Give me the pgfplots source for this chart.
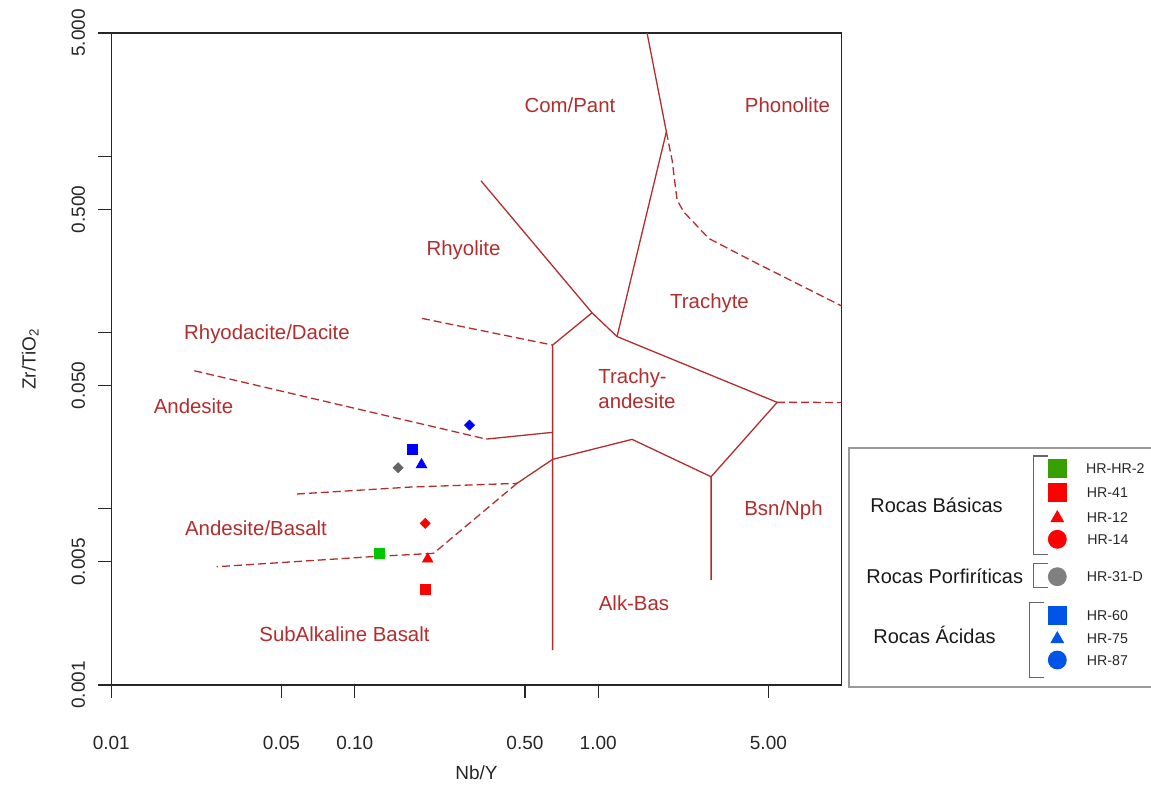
\documentclass[border=0pt]{standalone}
\usepackage{pgfplots}
\pgfplotsset{compat=1.18}
\usepackage{fontspec}
\setmainfont{Liberation Sans}
\definecolor{fld}{RGB}{178,45,45}
\definecolor{lgreen}{RGB}{55,160,0}
\definecolor{pgreen}{RGB}{0,200,0}
\definecolor{lblue}{RGB}{0,85,230}
\definecolor{pgray}{RGB}{100,100,100}
\definecolor{lgray}{RGB}{128,128,128}
\begin{document}
\begin{tikzpicture}
% ---------------- main diagram ----------------
\begin{axis}[
  at={(0pt,0pt)}, anchor=south west,
  scale only axis, width=365.2pt, height=326pt,
  xmode=log, ymode=log,
  xmin=0.01, xmax=10, ymin=0.001, ymax=5,
  axis line style={black!85, line width=0.6pt},
  tick style={black!85, line width=0.6pt},
  tick align=outside, major tick length=6.5pt,
  xtick pos=bottom, ytick pos=left,
  xminorticks=false, yminorticks=false,
  xtick={0.01,0.05,0.1,0.5,1,5},
  xticklabels={0.01,0.05,0.10,0.50,1.00,5.00},
  ytick={0.001,0.005,0.01,0.05,0.1,0.5,1,5},
  yticklabels={0.001,0.005,,0.050,,0.500,,5.000},
  /pgf/number format/assume math mode=true,
  ticklabel style={font=\fontsize{9.5}{11}\selectfont, text=black!85},
  xticklabel style={anchor=center, yshift=-22.5pt},
  yticklabel style={xshift=-10pt, rotate=90, anchor=center},
  xlabel={Nb/Y}, ylabel={Zr/TiO\textsubscript{2}},
  label style={font=\fontsize{9.5}{11}\selectfont, text=black!85},
  xlabel style={at={(axis description cs:0.5,-0.135)}, anchor=center},
  ylabel style={at={(axis description cs:-0.111,0.5)}, anchor=center, rotate=0},
  clip=true,
]
% solid field boundaries
\addplot[fld, line width=0.65pt] coordinates {(0.3300,0.7253) (0.9430,0.1293) (1.195,0.09478)};
\addplot[fld, line width=0.65pt] coordinates {(1.195,0.09478) (1.905,1.375) (1.587,5)};
\addplot[fld, line width=0.65pt] coordinates {(1.195,0.09478) (5.431,0.04014)};
\addplot[fld, line width=0.65pt] coordinates {(5.431,0.04014) (2.908,0.01519) (2.908,0.003941)};
\addplot[fld, line width=0.65pt] coordinates {(2.908,0.01519) (1.377,0.02475) (0.6496,0.01906)};
\addplot[fld, line width=0.65pt] coordinates {(0.9430,0.1293) (0.6496,0.08484) (0.6496,0.001579)};
\addplot[fld, line width=0.65pt] coordinates {(0.6496,0.01906) (0.4637,0.01393)};
\addplot[fld, line width=0.65pt] coordinates {(0.3468,0.02484) (0.6496,0.02713)};
% dashed field boundaries
\addplot[fld, line width=0.65pt, dash pattern=on 4pt off 2pt] coordinates {(5.431,0.04014) (10,0.0401)};
\addplot[fld, line width=0.65pt, dash pattern=on 4pt off 2pt] coordinates {(1.905,1.375) (2.011,0.9504) (2.108,0.5636) (2.244,0.4837) (2.843,0.3418) (4.218,0.2574) (10,0.1413)};
\addplot[fld, line width=0.65pt, dash pattern=on 4pt off 2pt] coordinates {(0.1888,0.1202) (0.6496,0.08484)};
\addplot[fld, line width=0.65pt, dash pattern=on 4pt off 2pt] coordinates {(0.02194,0.06064) (0.3468,0.02484)};
\addplot[fld, line width=0.65pt, dash pattern=on 4pt off 2pt] coordinates {(0.05781,0.01212) (0.1689,0.01327) (0.4637,0.01393)};
\addplot[fld, line width=0.65pt, dash pattern=on 4pt off 2pt] coordinates {(0.4637,0.01393) (0.2107,0.005585)};
\addplot[fld, line width=0.65pt, dash pattern=on 4pt off 2pt] coordinates {(0.2107,0.005585) (0.1157,0.005341) (0.02711,0.004688)};
% samples
\addplot[only marks, mark=square*, mark size=2.5pt, draw=pgreen, fill=pgreen] coordinates {(0.1263,0.005585)};
\addplot[only marks, mark=square*, mark size=2.5pt, draw=red, fill=red] coordinates {(0.1947,0.003490)};
\addplot[only marks, mark=triangle*, mark size=3.0pt, draw=red, fill=red] coordinates {(0.1993,0.00518)};
\addplot[only marks, mark=square*, mark size=1.75pt, mark options={rotate=45}, draw=red, fill=red] coordinates {(0.1947,0.008266)};
\addplot[only marks, mark=square*, mark size=1.75pt, mark options={rotate=45}, draw=pgray, fill=pgray] coordinates {(0.1508,0.01708)};
\addplot[only marks, mark=square*, mark size=2.5pt, draw=blue, fill=blue] coordinates {(0.1733,0.02182)};
\addplot[only marks, mark=triangle*, mark size=3.0pt, draw=blue, fill=blue] coordinates {(0.1880,0.01779)};
\addplot[only marks, mark=square*, mark size=1.75pt, mark options={rotate=45}, draw=blue, fill=blue] coordinates {(0.296,0.02984)};
\end{axis}
% ---------------- overlay in pixel units: field names and legend ----------------
\begin{axis}[
  at={(-55.65pt,-51pt)}, anchor=south west,
  scale only axis, width=575.5pt, height=393.5pt,
  xmin=0, xmax=1151, ymin=0, ymax=787, y dir=reverse,
  hide axis, clip=false,
]
\begin{scope}[every node/.style={font=\fontsize{10.2}{12}\selectfont, text=fld, anchor=base, inner sep=0pt}]
\node at (axis cs:570,112) {Com/Pant};
\node at (axis cs:787.5,112) {Phonolite};
\node at (axis cs:463.5,255) {Rhyolite};
\node at (axis cs:709.5,308) {Trachyte};
\node at (axis cs:267,339) {Rhyodacite/Dacite};
\node[anchor=base west] at (axis cs:598,383) {Trachy-};
\node[anchor=base west] at (axis cs:598,408) {andesite};
\node at (axis cs:193.5,413) {Andesite};
\node at (axis cs:256,535) {Andesite/Basalt};
\node at (axis cs:783.5,515) {Bsn/Nph};
\node at (axis cs:634,610) {Alk-Bas};
\node at (axis cs:344.5,641) {SubAlkaline Basalt};
\end{scope}
% legend frame
\draw[lgray!80, line width=0.6pt] (axis cs:1165,448) -- (axis cs:849,448) -- (axis cs:849,687) -- (axis cs:1165,687);
% brackets
\draw[black!60, line width=0.6pt] (axis cs:1048.3,456) -- (axis cs:1033.3,456) -- (axis cs:1033.3,554.3) -- (axis cs:1048.3,554.3);
\draw[black!60, line width=0.6pt] (axis cs:1048.3,563.3) -- (axis cs:1033.3,563.3) -- (axis cs:1033.3,587.3) -- (axis cs:1048.3,587.3);
\draw[black!60, line width=0.6pt] (axis cs:1044.3,602.7) -- (axis cs:1029.3,602.7) -- (axis cs:1029.3,677.3) -- (axis cs:1044.3,677.3);
% group names
\begin{scope}[every node/.style={font=\fontsize{10}{12}\selectfont, text=black!90, anchor=base west, inner sep=0pt}]
\node at (axis cs:870,512) {Rocas Básicas};
\node at (axis cs:866,583) {Rocas Porfiríticas};
\node at (axis cs:873,643.7) {Rocas Ácidas};
\end{scope}
% legend symbols
\addplot[only marks, mark=square*, mark size=4.5pt, draw=lgreen, fill=lgreen] coordinates {(1057.3,468.3)};
\addplot[only marks, mark=square*, mark size=4.5pt, draw=red, fill=red] coordinates {(1057.3,492.3)};
\addplot[only marks, mark=triangle*, mark size=3.6pt, draw=red, fill=red] coordinates {(1057.3,518)};
\addplot[only marks, mark=*, mark size=4.5pt, draw=red, fill=red] coordinates {(1057.3,539.3)};
\addplot[only marks, mark=*, mark size=4.5pt, draw=lgray, fill=lgray] coordinates {(1057.3,576.7)};
\addplot[only marks, mark=square*, mark size=4.5pt, draw=lblue, fill=lblue] coordinates {(1057.3,615)};
\addplot[only marks, mark=triangle*, mark size=3.6pt, draw=lblue, fill=lblue] coordinates {(1057.3,639)};
\addplot[only marks, mark=*, mark size=4.5pt, draw=lblue, fill=lblue] coordinates {(1057.3,660)};
\begin{scope}[every node/.style={font=\fontsize{7.1}{9}\selectfont, text=black!85, anchor=base west, inner sep=0pt}]
\node at (axis cs:1085.7,473.3) {HR-HR-2};
\node at (axis cs:1086.5,497.3) {HR-41};
\node at (axis cs:1086.5,522.3) {HR-12};
\node at (axis cs:1087,544.3) {HR-14};
\node at (axis cs:1086.5,581.7) {HR-31-D};
\node at (axis cs:1086.5,620) {HR-60};
\node at (axis cs:1086.5,643.3) {HR-75};
\node at (axis cs:1086.5,665) {HR-87};
\end{scope}
\end{axis}
\pgfresetboundingbox
\path (-55.65pt,-51pt) rectangle (519.85pt,342.5pt);
\end{tikzpicture}
\end{document}
